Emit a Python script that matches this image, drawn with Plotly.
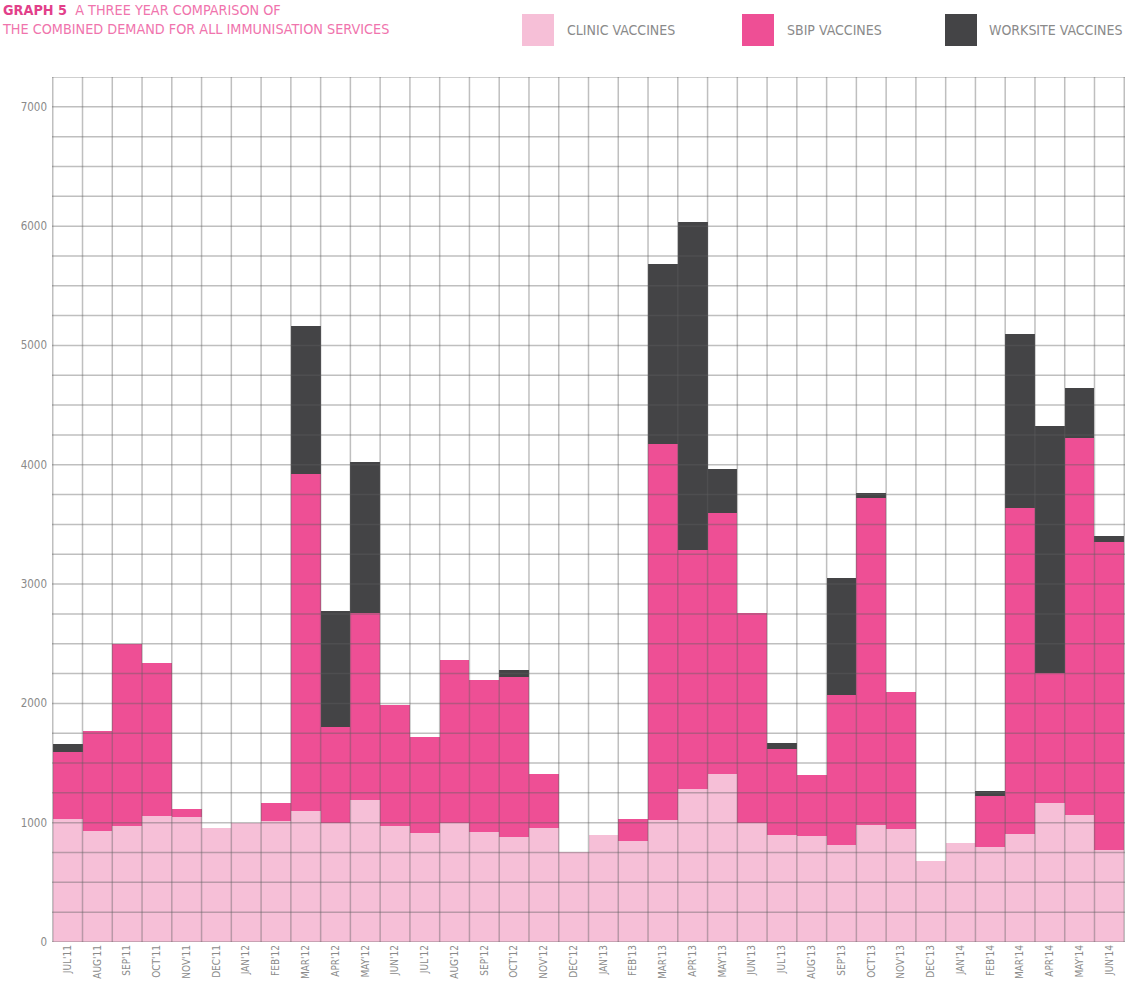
import plotly.graph_objects as go

months = ["JUL'11", "AUG'11", "SEP'11", "OCT'11", "NOV'11", "DEC'11",
          "JAN'12", "FEB'12", "MAR'12", "APR'12", "MAY'12", "JUN'12",
          "JUL'12", "AUG'12", "SEP'12", "OCT'12", "NOV'12", "DEC'12",
          "JAN'13", "FEB'13", "MAR'13", "APR'13", "MAY'13", "JUN'13",
          "JUL'13", "AUG'13", "SEP'13", "OCT'13", "NOV'13", "DEC'13",
          "JAN'14", "FEB'14", "MAR'14", "APR'14", "MAY'14", "JUN'14"]

clinic = [1030, 930, 975, 1055, 1045, 955,
          1000, 1015, 1100, 995, 1190, 972,
          910, 1000, 924, 876, 952, 752,
          900, 843, 1025, 1285, 1410, 997,
          893, 885, 810, 983, 950, 680,
          833, 793, 902, 1165, 1062, 773]

sbip = [560, 840, 1525, 1285, 70, 0,
        0, 150, 2820, 805, 1565, 1015,
        810, 1360, 1275, 1345, 455, 0,
        0, 185, 3147, 2000, 2185, 1760,
        725, 515, 1260, 2742, 1147, 0,
        0, 430, 2734, 1093, 3166, 2583]

worksite = [70, 0, 0, 0, 0, 0,
            0, 0, 1240, 975, 1270, 0,
            0, 0, 0, 60, 0, 0,
            0, 0, 1508, 2752, 368, 0,
            50, 0, 985, 42, 0, 0,
            0, 45, 1458, 2070, 419, 48]

series_names = ["CLINIC VACCINES", "SBIP VACCINES", "WORKSITE VACCINES"]
series_colors = ["#f6bfd7", "#ee4f95", "#444446"]
y_ticks = [0, 1000, 2000, 3000, 4000, 5000, 6000, 7000]

FONT = "DejaVu Sans Condensed, Roboto, sans-serif"
W, H = 1127, 991
ML, MR, MT, MB = 52, 2, 77, 49
Y_MAX = 7250
GRID_STEP = 250


def px_x(px):
    return (px - ML) / (W - ML - MR)


def px_y(py):
    return (H - MB - py) / (H - MT - MB)


fig = go.Figure()
for name, vals, col in zip(series_names, [clinic, sbip, worksite], series_colors):
    fig.add_trace(go.Bar(x=months, y=vals, name=name, marker_color=col,
                         marker_line_width=0, showlegend=False))

# grid drawn over the bars
shapes = []
grid_col = "rgba(95,95,95,0.40)"
v = 0
while v <= Y_MAX:
    shapes.append(dict(type="line", xref="paper", yref="y", x0=0, x1=1, y0=v, y1=v,
                       line=dict(color=grid_col, width=1.5), layer="above"))
    v += GRID_STEP
for i in range(len(months) + 1):
    shapes.append(dict(type="line", xref="x", yref="paper", x0=i - 0.5, x1=i - 0.5,
                       y0=0, y1=1, line=dict(color=grid_col, width=1.5), layer="above"))

# legend swatches
legend_px = [(522, 565), (742, 785), (945, 987)]
annotations = []
for (sx, tx), name, col in zip(legend_px, series_names, series_colors):
    shapes.append(dict(type="rect", xref="paper", yref="paper",
                       x0=px_x(sx), x1=px_x(sx + 32), y0=px_y(46), y1=px_y(14),
                       fillcolor=col, line=dict(width=0), layer="above"))
    annotations.append(dict(xref="paper", yref="paper", x=px_x(tx), y=px_y(30),
                            xanchor="left", yanchor="middle", showarrow=False,
                            text=name,
                            font=dict(family=FONT, size=14, color="#8a8a8a")))

annotations.append(dict(xref="paper", yref="paper", x=px_x(0), y=px_y(0),
                        xanchor="left", yanchor="top", showarrow=False, align="left",
                        text="<b><span style='color:#e2408a'>GRAPH 5</span></b>"
                             "&nbsp;&nbsp;A THREE YEAR COMPARISON OF<br>"
                             "THE COMBINED DEMAND FOR ALL IMMUNISATION SERVICES",
                        font=dict(family=FONT, size=14.3, color="#f074ad")))

fig.update_layout(
    width=W, height=H,
    margin=dict(l=ML, r=MR, t=MT, b=MB),
    barmode="stack", bargap=0,
    plot_bgcolor="white", paper_bgcolor="white",
    shapes=shapes, annotations=annotations,
    xaxis=dict(showgrid=False, tickangle=-90, ticks="", showline=False,
               tickfont=dict(family=FONT, size=10, color="#8a8a8a")),
    yaxis=dict(range=[0, Y_MAX], tickvals=y_ticks, showgrid=False, zeroline=False,
               ticks="", showline=False, ticklabelstandoff=4,
               tickfont=dict(family=FONT, size=11.5, color="#8a8a8a")),
)

fig.write_html("out.html")
